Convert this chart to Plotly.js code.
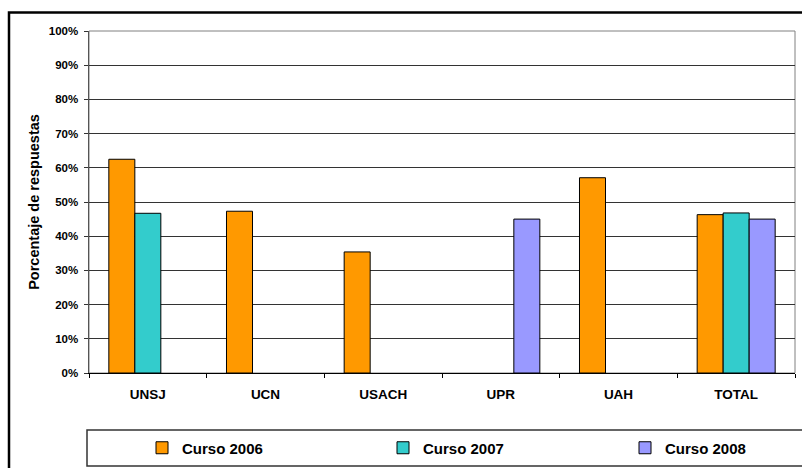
<!DOCTYPE html>
<html>
<head>
<meta charset="utf-8">
<script src="https://cdn.plot.ly/plotly-3.0.1.min.js"></script>
<style>html,body{margin:0;padding:0;background:#fff;}#chart{width:802px;height:468px;}</style>
</head>
<body>
<div id="chart"></div>
<script>
var categories = ["UNSJ", "UCN", "USACH", "UPR", "UAH", "TOTAL"];
var seriesNames = ["Curso 2006", "Curso 2007", "Curso 2008"];
var curso2006 = [0.625, 0.473, 0.354, null, 0.571, 0.463];
var curso2007 = [0.467, null, null, null, null, 0.468];
var curso2008 = [null, null, null, 0.450, null, 0.450];
var seriesColors = ["#FF9900", "#33CCCC", "#9999FF"];
var yTitle = "Porcentaje de respuestas";

var FONT = "Liberation Sans, Arial, Helvetica, sans-serif";
var values = [curso2006, curso2007, curso2008];
var legendIds = ["legend", "legend2", "legend3"];
var traces = values.map(function (v, i) {
  return {
    type: "bar",
    name: seriesNames[i],
    x: categories,
    y: v,
    legend: legendIds[i],
    marker: {color: seriesColors[i], line: {color: "#000", width: 1}},
    hoverinfo: "none"
  };
});

// pixel -> paper helpers (plot area 89..795 x 31..373)
var L = 89, R = 795, T = 31, B = 373;
function px(x) { return (x - L) / (R - L); }
function py(y) { return (B - y) / (B - T); }

function legendAt(leftPx) {
  return {
    orientation: "h",
    x: px(leftPx), xanchor: "left",
    y: py(448), yanchor: "middle",
    font: {family: FONT, size: 15, weight: "bold", color: "#000"},
    bgcolor: "rgba(0,0,0,0)", borderwidth: 0,
    itemclick: false, itemdoubleclick: false
  };
}

var layout = {
  width: 802, height: 468,
  margin: {l: L, r: 802 - R, t: T, b: 468 - B, autoexpand: false},
  paper_bgcolor: "#fff", plot_bgcolor: "#fff",
  barmode: "group", bargap: 0.337, bargroupgap: 0,
  font: {family: FONT, color: "#000", weight: "bold"},
  showlegend: true,
  legend: legendAt(142),
  legend2: legendAt(383),
  legend3: legendAt(625),
  xaxis: {
    type: "category",
    tickson: "boundaries",
    ticks: "outside", ticklen: 4, tickcolor: "#000", tickwidth: 1,
    showline: true, linecolor: "#000", linewidth: 1,
    showgrid: false, zeroline: false,
    tickfont: {family: FONT, size: 13.5, weight: "bold", color: "#000"},
    ticklabelstandoff: 9,
    fixedrange: true
  },
  yaxis: {
    range: [0, 1], dtick: 0.1, tickformat: ".0%",
    ticks: "outside", ticklen: 4, tickcolor: "#333", tickwidth: 1,
    showline: true, linecolor: "#555", linewidth: 1.5,
    showgrid: true, gridcolor: "#333", gridwidth: 1,
    zeroline: false,
    tickfont: {family: FONT, size: 11.5, weight: "bold", color: "#000"},
    ticklabelstandoff: 3,
    title: {text: yTitle, font: {family: FONT, size: 14.5, weight: "bold", color: "#000"}, standoff: 5},
    fixedrange: true
  },
  shapes: [
    // outer chart frame (left and top edges visible)
    {type: "rect", xref: "paper", yref: "paper", x0: px(9), x1: px(820), y0: py(500), y1: py(12.5),
     line: {color: "#000", width: 2.5}, layer: "above"},
    // plot area border (top/right grey)
    {type: "rect", xref: "paper", yref: "paper", x0: 0, x1: 1, y0: 0, y1: 1,
     line: {color: "#808080", width: 1}, layer: "below"},
    // legend box
    {type: "rect", xref: "paper", yref: "paper", x0: px(87), x1: px(830), y0: py(466), y1: py(430),
     line: {color: "#333", width: 1.5}, layer: "below"}
  ]
};

Plotly.newPlot("chart", traces, layout, {staticPlot: true, displayModeBar: false});
</script>
</body>
</html>
